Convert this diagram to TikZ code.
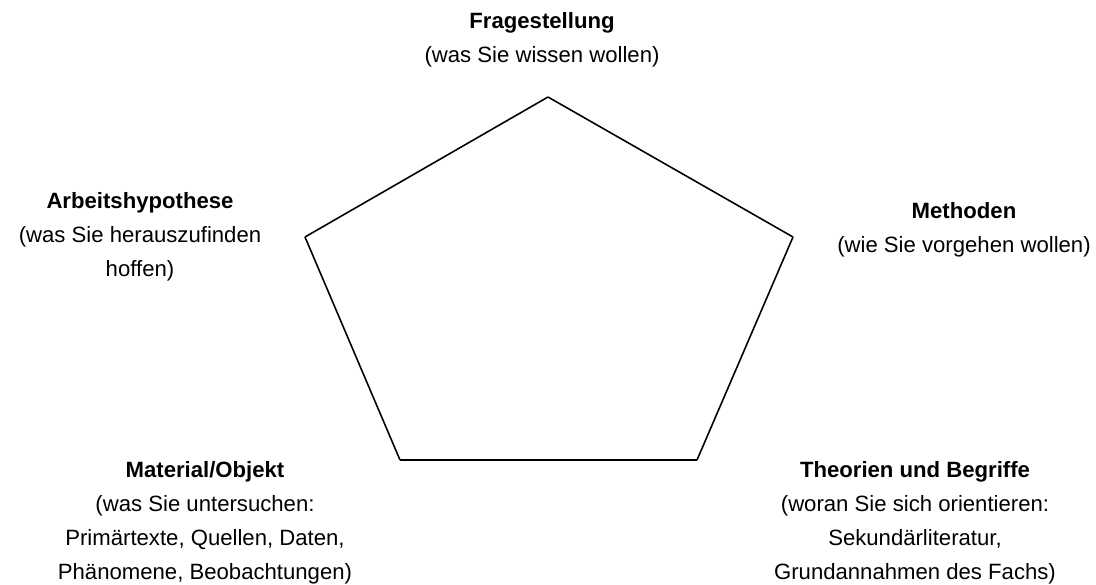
\documentclass[tikz,border=0pt]{standalone}
\usepackage{fontspec}
\setmainfont{Liberation Sans}
\usepackage{tikz}

\begin{document}
\begin{tikzpicture}[x=0.02cm, y=-0.02cm, line width=0.9pt,
   label_style/.style={align=center, inner sep=0pt, font=\fontsize{12.6}{19.4}\selectfont}]
	\useasboundingbox (0,0) rectangle (1096,585);

	\coordinate (c1) at (548,97);
	\coordinate (c2) at (793,237);
	\coordinate (c3) at (697,460);
	\coordinate (c4) at (400,460);
	\coordinate (c5) at (305,237);

	\foreach \from/\to in {c1/c2, c2/c3, c3/c4, c4/c5, c5/c1}
	  \draw (\from) -- (\to);

	\node [label_style] (frage) at (542,40) {\textbf{Fragestellung}\\(was Sie wissen wollen)};
	\node [label_style] (hypo) at (140,237) {\textbf{Arbeitshypothese}\\(was Sie herauszufinden\\hoffen)};
	\node [label_style] (meth) at (964,230) {\textbf{Methoden}\\(wie Sie vorgehen wollen)};
	\node [label_style] (mat) at (205,523) {\textbf{Material/Objekt}\\(was Sie untersuchen:\\Primärtexte, Quellen, Daten,\\Phänomene, Beobachtungen)};
	\node [label_style] (theo) at (915,523) {\textbf{Theorien und Begriffe}\\(woran Sie sich orientieren:\\Sekundärliteratur,\\Grundannahmen des Fachs)};
\end{tikzpicture}
\end{document}
